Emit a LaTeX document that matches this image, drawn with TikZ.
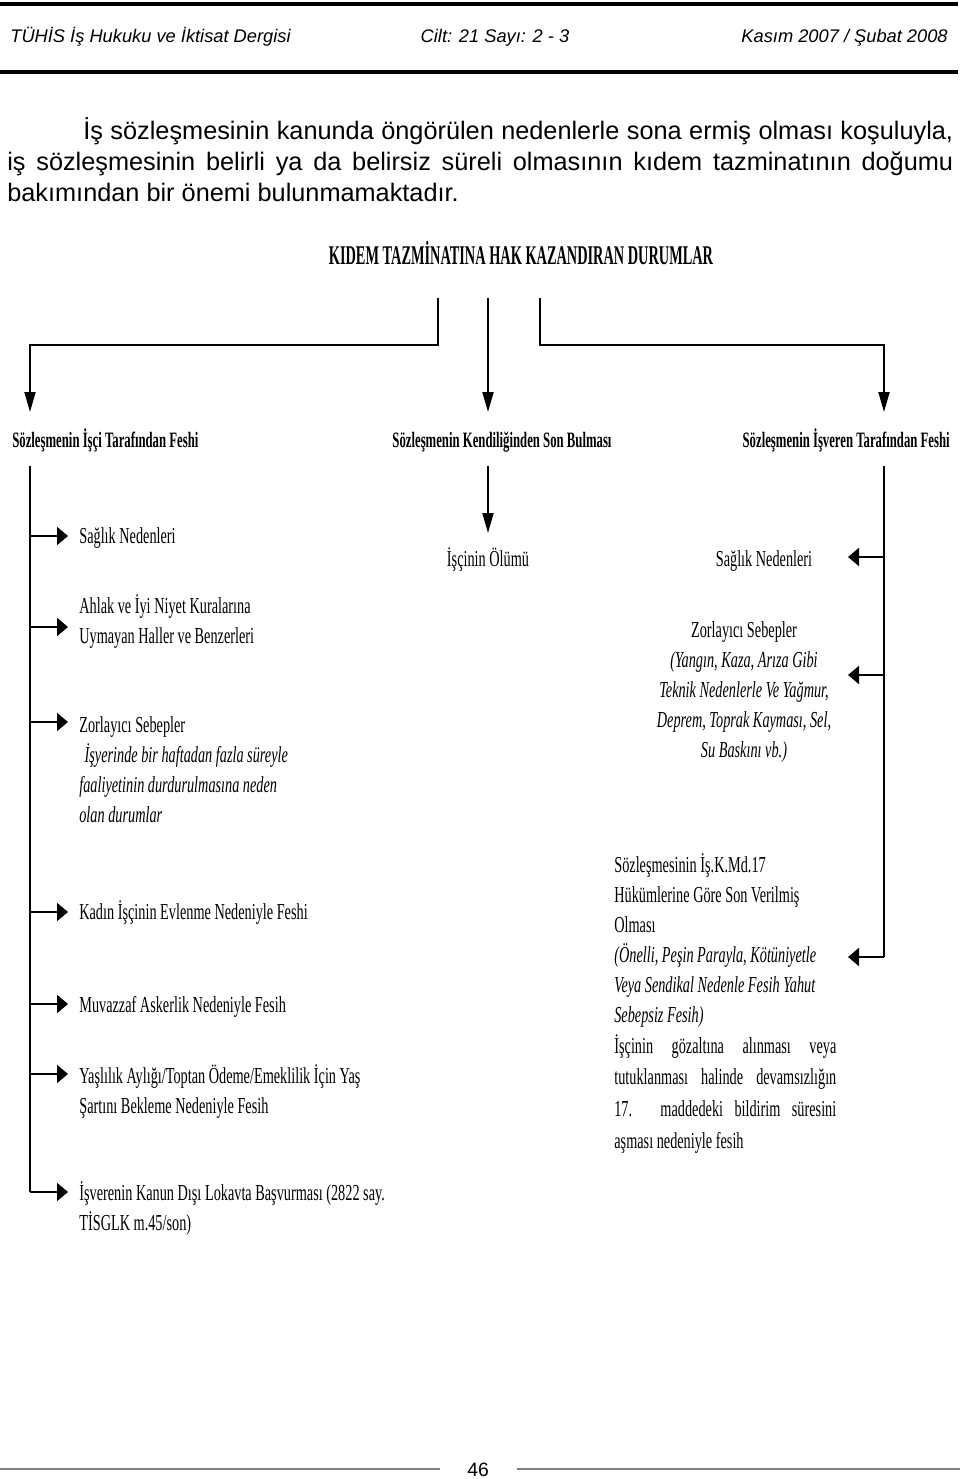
\documentclass[tikz,border=0pt]{standalone}
\usepackage{fontspec}
\setmainfont{Liberation Serif}
\newfontfamily\sansf{Liberation Sans}
\newfontfamily\condf[FakeStretch=0.625]{Liberation Serif}
\newfontfamily\condb[FakeStretch=0.58]{Liberation Serif}
\newfontfamily\condt[FakeStretch=0.53]{Liberation Serif}
\usetikzlibrary{arrows.meta}

\begin{document}
\begin{tikzpicture}[x=0.02cm, y=-0.02cm,
    conn/.style={line width=1.1pt},
    downarrow/.style={conn, -{Triangle[length=0.4cm, width=0.22cm]}},
    sidearrow/.style={conn, -{Triangle[length=0.22cm, width=0.36cm]}},
    head/.style={inner sep=0pt, font=\sansf\itshape\fontsize{10.4}{12}\selectfont},
    txt/.style={inner sep=0pt, font=\condf\fontsize{13}{17}\selectfont},
    kind/.style={inner sep=0pt, font=\condb\bfseries\fontsize{12.5}{15}\selectfont}]
    \useasboundingbox (0,0) rectangle (960,1479);
    % page header
    \draw[line width=2.2pt] (0,4) -- (958,4);
    \draw[line width=2.2pt] (0,72) -- (958,72);
    \node[head, anchor=base west] (journal) at (10,43) {TÜHİS İş Hukuku ve İktisat Dergisi};
    \node[head, anchor=base] (issue) at (495,43) {Cilt: 21 Sayı: 2 - 3};
    \node[head, anchor=base east] (date) at (948,43) {Kasım 2007 / Şubat 2008};
    % paragraph
    \node[inner sep=0pt, anchor=base west, text width=18.92cm, align=justify,
          font=\sansf\fontsize{14.4}{17.6}\selectfont] (para) at (7,140)
        {\hyphenpenalty=10000\hspace*{1.52cm}İş sözleşmesinin kanunda öngörülen nedenlerle sona ermiş olması koşuluyla,\linebreak
         iş sözleşmesinin belirli ya da belirsiz süreli olmasının kıdem tazminatının doğumu\linebreak
         bakımından bir önemi bulunmamaktadır.};
    % title
    \node[inner sep=0pt, anchor=base, font=\condt\bfseries\fontsize{15.4}{18}\selectfont] (title) at (521,265)
        {KIDEM TAZMİNATINA HAK KAZANDIRAN DURUMLAR};
    % three kinds
    \node[kind, anchor=base west] (isci) at (12,448) {Sözleşmenin İşçi Tarafından Feshi};
    \node[kind, anchor=base] (kendi) at (502,448) {Sözleşmenin Kendiliğinden Son Bulması};
    \node[kind, anchor=base east] (isveren) at (950,448) {Sözleşmenin İşveren Tarafından Feshi};
    % branches from the title
    \coordinate (tL) at (438,298);
    \coordinate (tM) at (488,298);
    \coordinate (tR) at (540,298);
    \coordinate (kL) at (30,412);
    \coordinate (kM) at (488,412);
    \coordinate (kR) at (884,412);
    \draw[downarrow] (tL) -- ++(0,47) -| (kL);
    \draw[downarrow] (tM) -- (kM);
    \draw[downarrow] (tR) -- ++(0,47) -| (kR);
    % worker side
    \coordinate (sL) at (30,466);
    \draw[conn] (sL) -- (30,1192);
    \foreach \y/\n in {536/a, 627/b, 722/c, 912/d, 1004/e, 1074/f, 1192/g} {
        \coordinate (tip\n) at (68,\y);
        \draw[sidearrow] (sL |- tip\n) -- (tip\n);
    }
    % (base of a several-line node = its last line)
    \node[txt, anchor=base west] (saglikL) at (79,543) {Sağlık Nedenleri};
    \node[txt, anchor=base west, align=left] (ahlak) at (79,643)
        {Ahlak ve İyi Niyet Kuralarına\\Uymayan Haller ve Benzerleri};
    \node[txt, anchor=base west, align=left] (zorL) at (79,822)
        {Zorlayıcı Sebepler\\\itshape\hspace{1pt} İşyerinde bir haftadan fazla süreyle\\
         \itshape faaliyetinin durdurulmasına neden\\\itshape olan durumlar};
    \node[txt, anchor=base west] (kadin) at (79,919) {Kadın İşçinin Evlenme Nedeniyle Feshi};
    \node[txt, anchor=base west] (asker) at (79,1012) {Muvazzaf Askerlik Nedeniyle Fesih};
    \node[txt, anchor=base west, align=left] (yas) at (79,1113)
        {Yaşlılık Aylığı/Toptan Ödeme/Emeklilik İçin Yaş\\Şartını Bekleme Nedeniyle Fesih};
    \node[txt, anchor=base west, align=left] (lokavt) at (79,1230)
        {İşverenin Kanun Dışı Lokavta Başvurması (2822 say.\\TİSGLK m.45/son)};
    % ending by itself
    \coordinate (sM) at (488,466);
    \coordinate (tipM) at (488,533);
    \draw[downarrow] (sM) -- (tipM);
    \node[txt, anchor=base] (olum) at (488,566) {İşçinin Ölümü};
    % employer side
    \coordinate (sR) at (884,466);
    \draw[conn] (sR) -- (884,957);
    \foreach \y/\n in {557/a, 675/b, 957/c} {
        \coordinate (tipR\n) at (848,\y);
        \draw[sidearrow] (sR |- tipR\n) -- (tipR\n);
    }
    \node[txt, anchor=base] (saglikR) at (764,566) {Sağlık Nedenleri};
    \node[txt, anchor=base, align=center] (zorR) at (744,757)
        {Zorlayıcı Sebepler\\\itshape(Yangın, Kaza, Arıza Gibi\\\itshape Teknik Nedenlerle Ve Yağmur,\\
         \itshape Deprem, Toprak Kayması, Sel,\\\itshape Su Baskını vb.)};
    \node[txt, anchor=base west, align=left] (madde) at (614,1022)
        {Sözleşmesinin İş.K.Md.17\\Hükümlerine Göre Son Verilmiş\\Olması\\
         \itshape(Önelli, Peşin Parayla, Kötüniyetle\\\itshape Veya Sendikal Nedenle Fesih Yahut\\
         \itshape Sebepsiz Fesih)};
    \node[txt, anchor=base west, text width=4.44cm, align=justify,
          font=\condf\fontsize{13}{18.1}\selectfont] (gozalti) at (614,1053)
        {\hyphenpenalty=10000 İşçinin gözaltına alınması veya\linebreak
         tutuklanması halinde devamsızlığın\linebreak
         17. maddedeki bildirim süresini\linebreak
         aşması nedeniyle fesih};
    % page footer
    \node[inner sep=0pt, anchor=base, font=\sansf\fontsize{11}{13}\selectfont] (pagenum) at (478,1476) {46};
    \draw[gray, line width=1pt] (0,1469) -- (440,1469);
    \draw[gray, line width=1pt] (517,1469) -- (960,1469);
\end{tikzpicture}
\end{document}
